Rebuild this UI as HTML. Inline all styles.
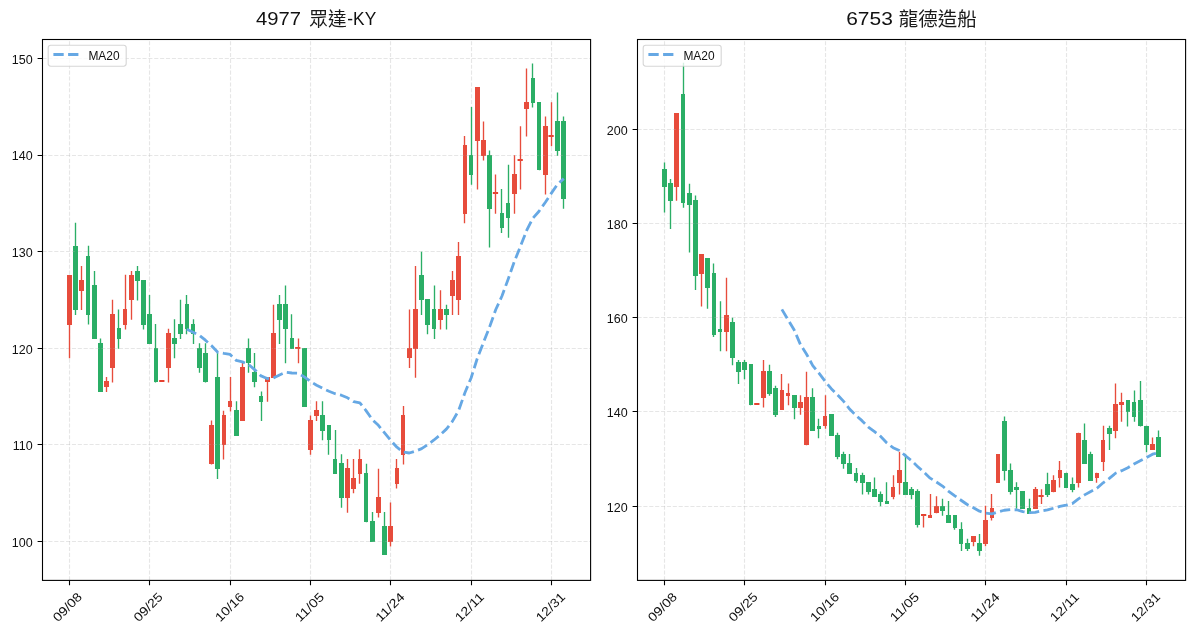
<!DOCTYPE html>
<html><head><meta charset="utf-8"><title>chart</title>
<style>html,body{margin:0;padding:0;background:#fff}svg{display:block}text{font-family:"Liberation Sans",sans-serif}</style>
</head><body>
<svg width="1195" height="633" viewBox="0 0 1195 633">
<rect width="1195" height="633" fill="#fff"/>
<g opacity="0.999">
<path d="M73 246h5v64h-5zM86 256h4v59h-4zM92 285h5v54h-5zM98 343h5v49h-5zM117 328h4v11h-4zM135 271h5v10h-5zM141 280h5v45h-5zM147 314h5v30h-5zM154 348h4v34h-4zM172 338h5v6h-5zM178 324h5v10h-5zM185 304h4v25h-4zM191 324h4v10h-4zM197 348h5v20h-5zM203 353h5v29h-5zM215 377h5v92h-5zM234 410h5v26h-5zM246 348h5v15h-5zM252 372h5v10h-5zM259 396h4v6h-4zM277 304h5v16h-5zM283 304h5v25h-5zM290 338h4v11h-4zM302 348h5v59h-5zM320 415h5v16h-5zM327 425h4v15h-4zM333 459h4v15h-4zM339 463h5v35h-5zM364 473h4v49h-4zM370 521h5v21h-5zM382 526h5v29h-5zM419 275h5v25h-5zM425 299h5v26h-5zM432 309h4v20h-4zM444 309h5v6h-5zM469 155h4v20h-4zM487 155h5v54h-5zM500 213h4v15h-4zM506 203h4v15h-4zM531 78h4v25h-4zM537 102h4v68h-4zM555 121h5v30h-5zM561 121h5v78h-5z" fill="#2BAE66"/>
<path d="M67 275h5v50h-5zM79 280h5v11h-5zM104 381h5v6h-5zM110 314h5v54h-5zM123 309h4v16h-4zM129 275h5v25h-5zM166 333h5v35h-5zM209 425h5v39h-5zM222 415h4v30h-4zM228 401h4v6h-4zM240 367h5v54h-5zM265 377h5v5h-5zM271 333h5v45h-5zM308 420h5v30h-5zM314 410h5v6h-5zM345 468h5v30h-5zM351 478h5v11h-5zM358 459h4v15h-4zM376 497h5v16h-5zM388 526h5v16h-5zM395 468h4v16h-4zM401 415h4v40h-4zM407 348h5v10h-5zM413 309h5v40h-5zM438 309h5v11h-5zM450 280h5v16h-5zM456 256h5v44h-5zM463 145h4v69h-4zM475 87h5v54h-5zM481 140h5v16h-5zM512 174h5v20h-5zM524 102h5v7h-5zM543 126h5v49h-5z" fill="#E74C3C"/>
<path d="M159.2 380h5.25v2h-5.25zM295.13 347h5.25v2h-5.25zM492.84 192h5.25v2h-5.25zM517.56 159h5.25v2h-5.25zM548.45 135h5.25v2h-5.25z" fill="#E5402F"/>
<g stroke="#b0b0b0" stroke-opacity="0.32" stroke-width="1.1" stroke-dasharray="4.1 1.78" fill="none">
<path d="M69.5 580.4 V39.5"/>
<path d="M149.5 580.4 V39.5"/>
<path d="M230.5 580.4 V39.5"/>
<path d="M310.5 580.4 V39.5"/>
<path d="M390.5 580.4 V39.5"/>
<path d="M471.5 580.4 V39.5"/>
<path d="M551.5 580.4 V39.5"/>
<path d="M42.5 541.5 H590.6"/>
<path d="M42.5 444.5 H590.6"/>
<path d="M42.5 348.5 H590.6"/>
<path d="M42.5 251.5 H590.6"/>
<path d="M42.5 155.5 H590.6"/>
<path d="M42.5 58.5 H590.6"/>
</g>
<path d="M75.5 222.71 V314.94M88.5 245.86 V324.59M94.5 270.94 V339.06M100.5 338.45 V392.1M118.5 309.52 V348.7M137.5 266.12 V300.47M143.5 280.58 V329.41M149.5 295.05 V343.88M155.5 323.99 V382.46M174.5 319.16 V358.34M180.5 299.87 V339.06M186.5 295.05 V334.23M193.5 319.16 V343.88M199.5 343.28 V372.81M205.5 343.28 V382.46M217.5 352.92 V478.91M236.5 401.15 V435.5M248.5 338.45 V372.81M254.5 352.92 V387.28M261.5 391.5 V421.04M279.5 295.05 V343.88M285.5 285.41 V363.17M291.5 314.34 V348.7M304.5 348.1 V406.57M322.5 401.15 V440.33M328.5 425.26 V454.79M335.5 430.08 V474.08M341.5 454.19 V507.84M366.5 463.84 V522.31M372.5 512.07 V541.6M384.5 512.07 V555.1M421.5 251.65 V314.94M427.5 299.87 V334.23M434.5 285.41 V339.06M446.5 304.7 V329.41M471.5 106.97 V184.73M489.5 150.38 V247.43M501.5 188.96 V232.96M508.5 164.84 V237.78M532.5 63.57 V107.57M539.5 102.15 V170.27M557.5 92.51 V155.8M563.5 116.62 V208.85" stroke="#2BAE66" stroke-width="1.35" fill="none"/>
<path d="M69.5 275.76 V358.34M81.5 266.12 V310.12M106.5 377.03 V392.1M112.5 299.87 V382.46M125.5 274.8 V329.41M131.5 270.94 V319.76M168.5 328.81 V382.46M211.5 420.44 V464.44M223.5 410.79 V459.62M230.5 377.03 V411.39M242.5 362.57 V421.04M267.5 377.03 V401.75M273.5 304.7 V377.63M298.5 338.45 V363.17M310.5 415.61 V454.79M316.5 401.15 V421.04M347.5 459.02 V512.66M353.5 459.02 V493.37M359.5 449.37 V483.73M378.5 468.66 V517.49M390.5 502.42 V546.42M396.5 459.02 V488.55M403.5 405.97 V464.44M409.5 309.52 V367.99M415.5 266.12 V377.63M440.5 290.23 V329.41M452.5 270.94 V314.94M458.5 242 V314.94M464.5 135.91 V223.31M477.5 87.68 V189.56M483.5 121.44 V160.62M495.5 174.49 V213.67M514.5 155.2 V213.67M520.5 126.27 V189.56M526.5 68.39 V136.51M545.5 116.62 V194.38M551.5 102.15 V146.15" stroke="#E74C3C" stroke-width="1.35" fill="none"/>
<path d="M186.86 329.35 L193.04 332.24 L199.22 335.14 L205.4 340.2 L211.58 345.75 L217.76 352.26 L223.94 353.46 L230.11 354.43 L236.29 360.46 L242.47 361.9 L248.65 364.56 L254.83 369.86 L261.01 375.89 L267.18 378.54 L273.36 378.06 L279.54 374.92 L285.72 372.27 L291.9 372.99 L298.08 373.24 L304.26 376.85 L310.43 381.43 L316.61 385.29 L322.79 388.43 L328.97 391.32 L335.15 393.73 L341.33 395.18 L347.51 397.83 L353.68 401.69 L359.86 402.89 L366.04 410.61 L372.22 419.53 L378.4 425.32 L384.58 432.99 L390.76 440.46 L396.93 447.21 L403.11 452.04 L409.29 453 L415.47 451.07 L421.65 448.66 L427.83 444.56 L434.01 439.98 L440.18 434.92 L446.36 429.13 L452.54 421.17 L458.72 410.32 L464.9 392.72 L471.08 378.01 L477.26 358.48 L483.43 342.56 L489.61 326.89 L495.79 309.53 L501.97 296.03 L508.15 279.2 L514.33 261.59 L520.51 246.16 L526.68 230.49 L532.86 218.19 L539.04 211.2 L545.22 202.52 L551.4 193.12 L557.58 184.19 L563.76 178.65" stroke="#66A8E4" stroke-width="2.8" stroke-dasharray="10.3 4.4" fill="none" stroke-linejoin="round"/>
<rect x="42.5" y="39.5" width="548.1" height="540.9" fill="none" stroke="#000" stroke-width="1.1"/>
<path d="M69.5 580.4v4.9M149.5 580.4v4.9M230.5 580.4v4.9M310.5 580.4v4.9M390.5 580.4v4.9M471.5 580.4v4.9M551.5 580.4v4.9M42.5 541.5h-4.9M42.5 444.5h-4.9M42.5 348.5h-4.9M42.5 251.5h-4.9M42.5 155.5h-4.9M42.5 58.5h-4.9" stroke="#000" stroke-width="1.1" fill="none"/>
<g font-size="12.5" fill="#111">
<text x="32.6" y="547.1" text-anchor="end">100</text>
<text x="32.6" y="450.1" text-anchor="end">110</text>
<text x="32.6" y="353.7" text-anchor="end">120</text>
<text x="32.6" y="257.2" text-anchor="end">130</text>
<text x="32.6" y="160.2" text-anchor="end">140</text>
<text x="32.6" y="64.1" text-anchor="end">150</text>
<text transform="translate(67.07 606.9) rotate(-45)" x="-17.6" y="4.6" textLength="35.2" lengthAdjust="spacingAndGlyphs">09/08</text>
<text transform="translate(147.89 606.9) rotate(-45)" x="-17.6" y="4.6" textLength="35.2" lengthAdjust="spacingAndGlyphs">09/25</text>
<text transform="translate(229.31 606.9) rotate(-45)" x="-17.6" y="4.6" textLength="35.2" lengthAdjust="spacingAndGlyphs">10/16</text>
<text transform="translate(309.23 606.9) rotate(-45)" x="-17.6" y="4.6" textLength="35.2" lengthAdjust="spacingAndGlyphs">11/05</text>
<text transform="translate(389.66 606.9) rotate(-45)" x="-17.6" y="4.6" textLength="35.2" lengthAdjust="spacingAndGlyphs">11/24</text>
<text transform="translate(469.28 606.9) rotate(-45)" x="-17.6" y="4.6" textLength="35.2" lengthAdjust="spacingAndGlyphs">12/11</text>
<text transform="translate(550.25 606.9) rotate(-45)" x="-17.6" y="4.6" textLength="35.2" lengthAdjust="spacingAndGlyphs">12/31</text>
</g>
<rect x="48.2" y="45.2" width="78" height="21" rx="2.6" fill="#fff" fill-opacity="0.8" stroke="#ccc" stroke-opacity="0.8" stroke-width="1.1"/>
 <path d="M53.4 54.5h25.2" stroke="#66A8E4" stroke-width="2.95" stroke-dasharray="10.3 4.4" fill="none"/>
<text x="88.4" y="59.7" font-size="12.2" fill="#111" textLength="31.2" lengthAdjust="spacingAndGlyphs">MA20</text>
<text x="256" y="24.9" font-size="18" fill="#111" textLength="45" lengthAdjust="spacingAndGlyphs">4977</text>
<text x="309.2" y="25.6" font-size="19.2" fill="#1a1a1a" style="font-family:'Liberation Sans','Noto Sans CJK TC',sans-serif" textLength="37.4" lengthAdjust="spacingAndGlyphs">眾達</text>
<text x="347.3" y="24.9" font-size="18" fill="#111" textLength="28.9" lengthAdjust="spacingAndGlyphs">-KY</text>
</g>
<g opacity="0.999">
<path d="M662 169h5v18h-5zM668 183h5v18h-5zM681 94h4v109h-4zM687 193h5v12h-5zM693 200h5v76h-5zM705 258h5v30h-5zM712 273h4v62h-4zM718 329h4v3h-4zM730 322h5v36h-5zM736 362h5v10h-5zM742 362h5v8h-5zM749 364h4v41h-4zM767 371h5v23h-5zM773 388h5v27h-5zM792 395h5v13h-5zM810 397h5v34h-5zM817 426h4v3h-4zM829 414h5v22h-5zM835 435h5v22h-5zM841 454h5v10h-5zM847 463h5v11h-5zM854 473h4v8h-4zM860 475h5v8h-5zM866 482h5v10h-5zM872 489h5v8h-5zM878 494h5v8h-5zM885 501h4v3h-4zM903 482h5v13h-5zM909 489h5v6h-5zM915 491h5v34h-5zM940 506h5v5h-5zM946 515h5v8h-5zM953 515h4v13h-4zM959 529h4v15h-4zM965 543h5v6h-5zM977 543h5v8h-5zM1002 421h5v50h-5zM1008 470h5v22h-5zM1014 487h5v3h-5zM1020 491h5v18h-5zM1027 508h4v6h-4zM1045 484h5v11h-5zM1064 473h4v15h-4zM1070 484h5v6h-5zM1082 440h5v24h-5zM1088 454h5v27h-5zM1107 428h5v6h-5zM1126 400h4v12h-4zM1132 402h4v15h-4zM1138 400h5v26h-5zM1144 426h5v19h-5zM1156 437h5v20h-5z" fill="#2BAE66"/>
<path d="M674 113h5v74h-5zM699 254h5v20h-5zM724 315h5v17h-5zM761 371h5v27h-5zM780 390h4v20h-4zM786 393h4v3h-4zM798 402h5v6h-5zM804 397h5v48h-5zM823 416h4v10h-4zM891 487h4v10h-4zM897 470h5v13h-5zM928 515h4v3h-4zM934 506h5v7h-5zM971 536h5v6h-5zM983 520h5v24h-5zM990 508h4v10h-4zM996 454h4v29h-4zM1033 489h5v20h-5zM1051 480h5v12h-5zM1058 470h4v8h-4zM1076 433h5v50h-5zM1095 473h4v5h-4zM1101 440h4v22h-4zM1113 404h5v27h-5zM1119 402h5v3h-5zM1150 444h5v6h-5z" fill="#E74C3C"/>
<path d="M754.2 403h5.25v2h-5.25zM921.02 514h5.25v2h-5.25zM1038.41 495h5.25v2h-5.25z" fill="#E5402F"/>
<g stroke="#b0b0b0" stroke-opacity="0.32" stroke-width="1.1" stroke-dasharray="4.1 1.78" fill="none">
<path d="M664.5 580.4 V39.5"/>
<path d="M744.5 580.4 V39.5"/>
<path d="M825.5 580.4 V39.5"/>
<path d="M905.5 580.4 V39.5"/>
<path d="M985.5 580.4 V39.5"/>
<path d="M1066.5 580.4 V39.5"/>
<path d="M1146.5 580.4 V39.5"/>
<path d="M637.5 506.5 H1185.6"/>
<path d="M637.5 411.5 H1185.6"/>
<path d="M637.5 317.5 H1185.6"/>
<path d="M637.5 223.5 H1185.6"/>
<path d="M637.5 129.5 H1185.6"/>
</g>
<path d="M664.5 162.47 V212.44M670.5 178.93 V228.9M683.5 62.79 V207.74M689.5 183.63 V252.41M695.5 195.39 V290.03M707.5 257.92 V308.84M713.5 263.57 V337.05M720.5 301.18 V351.15M732.5 317.64 V365.26M738.5 359.96 V384.07M744.5 359.96 V379.37M750.5 364.66 V405.23M769.5 364.66 V395.82M775.5 385.82 V416.98M794.5 395.22 V419.33M812.5 388.17 V431.09M818.5 418.73 V438.14M831.5 414.03 V435.79M837.5 432.84 V459.3M843.5 451.65 V468.7M849.5 454 V473.41M856.5 468.1 V482.81M862.5 472.81 V494.56M868.5 482.21 V494.56M874.5 477.51 V496.92M880.5 491.61 V506.32M886.5 482.21 V503.97M905.5 454 V494.56M911.5 486.91 V499.27M917.5 489.26 V527.48M942.5 498.67 V515.72M948.5 501.02 V522.78M954.5 515.12 V529.83M961.5 522.18 V550.99M967.5 538.63 V550.99M979.5 533.93 V555.69M1004.5 416.38 V480.46M1010.5 463.4 V494.56M1016.5 482.21 V508.67M1022.5 491.61 V508.67M1029.5 498.67 V513.84M1047.5 472.81 V496.92M1066.5 472.81 V487.51M1072.5 477.51 V492.21M1084.5 423.44 V464M1090.5 451.65 V480.46M1109.5 425.79 V449.9M1127.5 399.92 V426.39M1134.5 390.52 V421.68M1140.5 381.12 V426.39M1146.5 425.79 V452.25M1158.5 430.49 V456.95" stroke="#2BAE66" stroke-width="1.35" fill="none"/>
<path d="M676.5 113.1 V200.69M701.5 254.16 V306.48M726.5 277.67 V351.15M763.5 359.96 V407.58M781.5 374.06 V409.93M788.5 383.47 V405.23M800.5 395.22 V414.63M806.5 371.71 V445.19M825.5 395.22 V428.74M893.5 475.16 V499.27M899.5 451.65 V494.56M923.5 515.12 V527.48M930.5 493.96 V518.07M936.5 496.32 V513.37M973.5 536.28 V546.29M985.5 505.72 V546.29M991.5 493.96 V520.43M998.5 454 V482.81M1035.5 486.91 V508.67M1041.5 489.26 V503.97M1053.5 475.16 V492.21M1059.5 461.05 V487.51M1078.5 432.84 V487.51M1096.5 472.81 V482.81M1103.5 425.79 V471.06M1115.5 383.47 V438.14M1121.5 392.87 V421.68M1152.5 437.54 V449.9" stroke="#E74C3C" stroke-width="1.35" fill="none"/>
<path d="M781.86 309.36 L788.04 319.7 L794.22 330.05 L800.4 344.51 L806.58 354.26 L812.76 365.55 L818.94 373.19 L825.11 381.3 L831.29 388.71 L837.47 394.82 L843.65 401.4 L849.83 409.28 L856.01 415.39 L862.18 420.91 L868.36 427.03 L874.54 431.61 L880.72 436.43 L886.9 443.01 L893.08 447.72 L899.26 450.54 L905.43 455.71 L911.61 460.76 L917.79 466.64 L923.97 472.28 L930.15 478.16 L936.33 481.92 L942.51 486.04 L948.68 491.33 L954.86 495.91 L961.04 500.26 L967.22 504.49 L973.4 507.67 L979.58 511.19 L985.76 513.07 L991.93 513.9 L998.11 511.78 L1004.29 510.25 L1010.47 509.66 L1016.65 509.78 L1022.83 511.66 L1029.01 512.63 L1035.18 512.39 L1041.36 510.98 L1047.54 509.92 L1053.72 508.16 L1059.9 506.4 L1066.08 505.22 L1072.26 503.57 L1078.43 498.87 L1084.61 494.88 L1090.79 491.47 L1096.97 488.29 L1103.15 482.77 L1109.33 478.42 L1115.51 473.25 L1121.68 470.66 L1127.86 467.72 L1134.04 463.96 L1140.22 460.79 L1146.4 457.61 L1152.58 454.18 L1158.76 452.53" stroke="#66A8E4" stroke-width="2.8" stroke-dasharray="10.3 4.4" fill="none" stroke-linejoin="round"/>
<rect x="637.5" y="39.5" width="548.1" height="540.9" fill="none" stroke="#000" stroke-width="1.1"/>
<path d="M664.5 580.4v4.9M744.5 580.4v4.9M825.5 580.4v4.9M905.5 580.4v4.9M985.5 580.4v4.9M1066.5 580.4v4.9M1146.5 580.4v4.9M637.5 506.5h-4.9M637.5 411.5h-4.9M637.5 317.5h-4.9M637.5 223.5h-4.9M637.5 129.5h-4.9" stroke="#000" stroke-width="1.1" fill="none"/>
<g font-size="12.5" fill="#111">
<text x="627.6" y="511.8" text-anchor="end">120</text>
<text x="627.6" y="416.8" text-anchor="end">140</text>
<text x="627.6" y="322.8" text-anchor="end">160</text>
<text x="627.6" y="228.8" text-anchor="end">180</text>
<text x="627.6" y="134.8" text-anchor="end">200</text>
<text transform="translate(662.07 606.9) rotate(-45)" x="-17.6" y="4.6" textLength="35.2" lengthAdjust="spacingAndGlyphs">09/08</text>
<text transform="translate(742.89 606.9) rotate(-45)" x="-17.6" y="4.6" textLength="35.2" lengthAdjust="spacingAndGlyphs">09/25</text>
<text transform="translate(824.31 606.9) rotate(-45)" x="-17.6" y="4.6" textLength="35.2" lengthAdjust="spacingAndGlyphs">10/16</text>
<text transform="translate(904.23 606.9) rotate(-45)" x="-17.6" y="4.6" textLength="35.2" lengthAdjust="spacingAndGlyphs">11/05</text>
<text transform="translate(984.66 606.9) rotate(-45)" x="-17.6" y="4.6" textLength="35.2" lengthAdjust="spacingAndGlyphs">11/24</text>
<text transform="translate(1064.28 606.9) rotate(-45)" x="-17.6" y="4.6" textLength="35.2" lengthAdjust="spacingAndGlyphs">12/11</text>
<text transform="translate(1145.25 606.9) rotate(-45)" x="-17.6" y="4.6" textLength="35.2" lengthAdjust="spacingAndGlyphs">12/31</text>
</g>
<rect x="643.2" y="45.2" width="78" height="21" rx="2.6" fill="#fff" fill-opacity="0.8" stroke="#ccc" stroke-opacity="0.8" stroke-width="1.1"/>
 <path d="M648.4 54.5h25.2" stroke="#66A8E4" stroke-width="2.95" stroke-dasharray="10.3 4.4" fill="none"/>
<text x="683.4" y="59.7" font-size="12.2" fill="#111" textLength="31.2" lengthAdjust="spacingAndGlyphs">MA20</text>
<text x="846.2" y="24.9" font-size="18" fill="#111" textLength="46.6" lengthAdjust="spacingAndGlyphs">6753</text>
<text x="898.7" y="25.6" font-size="19.2" fill="#1a1a1a" style="font-family:'Liberation Sans','Noto Sans CJK TC',sans-serif" textLength="78" lengthAdjust="spacingAndGlyphs">龍德造船</text>
</g>
</svg>
</body></html>
